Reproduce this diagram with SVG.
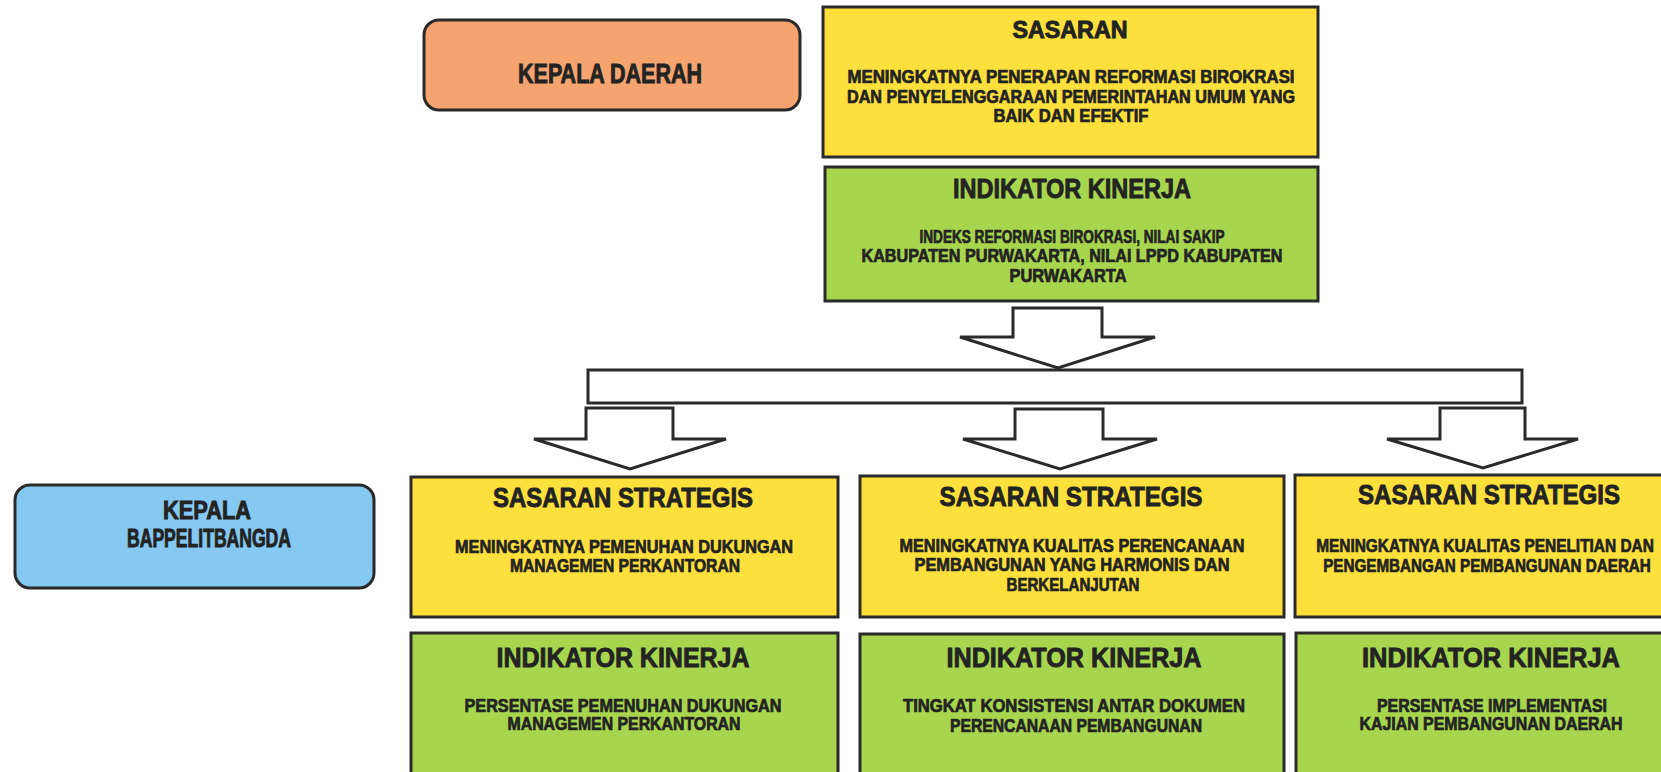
<svg xmlns="http://www.w3.org/2000/svg" width="1661" height="772" viewBox="0 0 1661 772">
<defs>
<style>
.box{stroke:#2a2a2a;stroke-width:3}
.org{fill:#F5A470}
.blu{fill:#85C8F2}
.yel{fill:#FDE03B}
.grn{fill:#A7D64E}
.arr{fill:#ffffff;stroke:#2a2a2a;stroke-width:3;stroke-linejoin:miter}
text{font-family:"Liberation Sans Narrow","Liberation Sans",Arial,sans-serif;font-weight:bold;fill:#232323;stroke:#232323;stroke-width:0.9;text-anchor:middle}
.t1{font-size:28px}
.t2{font-size:23px}
.b{font-size:18px;stroke-width:0.7}
</style>
</defs>
<rect width="1661" height="772" fill="#ffffff"/>

<g id="connectors">
<path class="arr" d="M1013,308 H1102 V337 H1155 L1058,368 L960,337 H1013 Z"/>
<rect class="arr" x="588" y="370" width="934" height="33"/>
<path class="arr" d="M586,408 H673 V439 H726 L630,469 L534,439 H586 Z"/>
<path class="arr" d="M1015,409 H1103 V439 H1157 L1060,469 L963,439 H1015 Z"/>
<path class="arr" d="M1440,408 H1525 V439 H1578 L1483,468 L1387,439 H1440 Z"/>
</g>

<g id="kepala-daerah">
<rect class="box org" x="424" y="20" width="376" height="90" rx="15"/>
<text class="t1" x="610" y="83" textLength="184" lengthAdjust="spacingAndGlyphs">KEPALA DAERAH</text>
</g>

<g id="kepala-bappelitbangda">
<rect class="box blu" x="15" y="485" width="359" height="103" rx="15"/>
<text class="t1" x="207" y="519" textLength="88" lengthAdjust="spacingAndGlyphs" style="font-size:25px">KEPALA</text>
<text class="t1" x="209" y="547" textLength="164" lengthAdjust="spacingAndGlyphs" style="font-size:25px">BAPPELITBANGDA</text>
</g>

<g id="sasaran">
<rect class="box yel" x="823" y="7" width="495" height="150"/>
<text class="t2" x="1070" y="38" textLength="115" lengthAdjust="spacingAndGlyphs">SASARAN</text>
<text class="b" x="1071" y="83" textLength="447" lengthAdjust="spacingAndGlyphs">MENINGKATNYA PENERAPAN REFORMASI BIROKRASI</text>
<text class="b" x="1071" y="103" textLength="448" lengthAdjust="spacingAndGlyphs">DAN PENYELENGGARAAN PEMERINTAHAN UMUM YANG</text>
<text class="b" x="1071" y="122" textLength="155" lengthAdjust="spacingAndGlyphs">BAIK DAN EFEKTIF</text>
</g>

<g id="indikator-kinerja">
<rect class="box grn" x="825" y="167" width="493" height="134"/>
<text class="t1" x="1072" y="198" textLength="238" lengthAdjust="spacingAndGlyphs">INDIKATOR KINERJA</text>
<text class="b" x="1072" y="243" textLength="305" lengthAdjust="spacingAndGlyphs">INDEKS REFORMASI BIROKRASI, NILAI SAKIP</text>
<text class="b" x="1072" y="262" textLength="421" lengthAdjust="spacingAndGlyphs">KABUPATEN PURWAKARTA, NILAI LPPD KABUPATEN</text>
<text class="b" x="1068" y="282" textLength="117" lengthAdjust="spacingAndGlyphs">PURWAKARTA</text>
</g>

<g id="sasaran-strategis-1">
<rect class="box yel" x="411" y="477" width="427" height="140"/>
<text class="t1" x="623" y="507" textLength="260" lengthAdjust="spacingAndGlyphs">SASARAN STRATEGIS</text>
<text class="b" x="624" y="553" textLength="338" lengthAdjust="spacingAndGlyphs">MENINGKATNYA PEMENUHAN DUKUNGAN</text>
<text class="b" x="625" y="572" textLength="230" lengthAdjust="spacingAndGlyphs">MANAGEMEN PERKANTORAN</text>
</g>

<g id="indikator-kinerja-1">
<rect class="box grn" x="411" y="633" width="427" height="170"/>
<text class="t1" x="623" y="667" textLength="253" lengthAdjust="spacingAndGlyphs">INDIKATOR KINERJA</text>
<text class="b" x="623" y="712" textLength="317" lengthAdjust="spacingAndGlyphs">PERSENTASE PEMENUHAN DUKUNGAN</text>
<text class="b" x="624" y="730" textLength="233" lengthAdjust="spacingAndGlyphs">MANAGEMEN PERKANTORAN</text>
</g>

<g id="sasaran-strategis-2">
<rect class="box yel" x="860" y="476" width="424" height="141"/>
<text class="t1" x="1071" y="506" textLength="263" lengthAdjust="spacingAndGlyphs">SASARAN STRATEGIS</text>
<text class="b" x="1072" y="552" textLength="345" lengthAdjust="spacingAndGlyphs">MENINGKATNYA KUALITAS PERENCANAAN</text>
<text class="b" x="1072" y="571" textLength="315" lengthAdjust="spacingAndGlyphs">PEMBANGUNAN YANG HARMONIS DAN</text>
<text class="b" x="1073" y="591" textLength="133" lengthAdjust="spacingAndGlyphs">BERKELANJUTAN</text>
</g>

<g id="indikator-kinerja-2">
<rect class="box grn" x="860" y="634" width="424" height="170"/>
<text class="t1" x="1074" y="667" textLength="255" lengthAdjust="spacingAndGlyphs">INDIKATOR KINERJA</text>
<text class="b" x="1074" y="712" textLength="342" lengthAdjust="spacingAndGlyphs">TINGKAT KONSISTENSI ANTAR DOKUMEN</text>
<text class="b" x="1076" y="732" textLength="252" lengthAdjust="spacingAndGlyphs">PERENCANAAN PEMBANGUNAN</text>
</g>

<g id="sasaran-strategis-3">
<rect class="box yel" x="1295" y="475" width="430" height="142"/>
<text class="t1" x="1489" y="504" textLength="262" lengthAdjust="spacingAndGlyphs">SASARAN STRATEGIS</text>
<text class="b" transform="translate(1485,552) scale(0.78,1)" x="0" y="0" textLength="433" lengthAdjust="spacingAndGlyphs">MENINGKATNYA KUALITAS  PENELITIAN DAN</text>
<text class="b" transform="translate(1487,572) scale(0.78,1)" x="0" y="0" textLength="420" lengthAdjust="spacingAndGlyphs">PENGEMBANGAN PEMBANGUNAN DAERAH</text>
</g>

<g id="indikator-kinerja-3">
<rect class="box grn" x="1296" y="633" width="430" height="170"/>
<text class="t1" x="1491" y="667" textLength="258" lengthAdjust="spacingAndGlyphs">INDIKATOR KINERJA</text>
<text class="b" x="1492" y="712" textLength="230" lengthAdjust="spacingAndGlyphs">PERSENTASE IMPLEMENTASI</text>
<text class="b" x="1491" y="730" textLength="263" lengthAdjust="spacingAndGlyphs">KAJIAN PEMBANGUNAN DAERAH</text>
</g>
</svg>
